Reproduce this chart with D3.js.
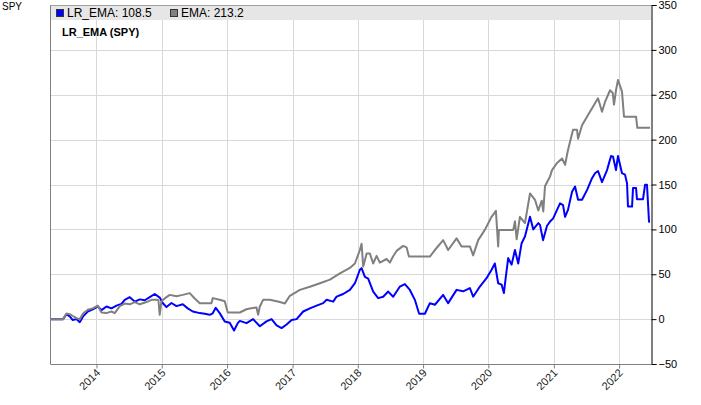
<!DOCTYPE html>
<html><head><meta charset="utf-8">
<script src="https://cdn.jsdelivr.net/npm/d3@7"></script>
<style>
body{margin:0;background:#fff}
text{font-family:Arial,"Liberation Sans",sans-serif}
</style>
</head><body>
<svg id="c" width="701" height="405"></svg>
<script>
// ---- data (decimal years, values) ----
const lrYears = [2013.296,2013.489,2013.541,2013.591,2013.637,2013.694,2013.744,2013.795,2013.867,2013.943,
2014.020,2014.077,2014.153,2014.230,2014.306,2014.383,2014.433,2014.510,2014.587,2014.663,2014.740,2014.816,2014.893,2014.969,
2015.015,2015.072,2015.149,2015.225,2015.322,2015.398,2015.475,2015.582,2015.658,2015.735,2015.781,2015.827,2015.888,2015.965,
2016.041,2016.107,2016.164,2016.195,2016.297,2016.398,2016.501,2016.603,2016.680,2016.757,2016.833,2016.910,2016.986,
2017.063,2017.164,2017.266,2017.369,2017.470,2017.522,2017.623,2017.675,2017.776,2017.879,2017.956,
2018.032,2018.058,2018.109,2018.159,2018.236,2018.312,2018.389,2018.466,2018.542,2018.645,2018.721,2018.798,2018.874,2018.940,
2019.028,2019.104,2019.181,2019.308,2019.384,2019.513,2019.614,2019.717,2019.767,2019.870,2019.972,
2020.049,2020.099,2020.150,2020.202,2020.237,2020.268,2020.303,2020.355,2020.406,2020.456,2020.508,2020.559,2020.636,2020.686,2020.763,2020.789,2020.835,2020.896,2020.942,2020.988,
2021.049,2021.095,2021.141,2021.172,2021.217,2021.279,2021.325,2021.371,2021.432,2021.508,2021.585,2021.631,2021.677,2021.738,2021.815,2021.876,2021.907,2021.952,2021.983,
2022.044,2022.090,2022.121,2022.136,2022.198,2022.213,2022.259,2022.274,2022.366,2022.397,2022.427,2022.458,2022.473];
const lrValues = [0,0,5.6,3,-1,0,-3.4,3,8.5,11,
14,10,14,12,15,17,21.5,24.5,19.5,22,21,24.5,28,24,
18,13.4,18,14.5,16.5,12,8.5,6.7,6,4.8,6.5,12.6,6.7,-2.6,
-4,-12.7,-4.5,-2,-4.5,0,-8,-2.5,0,-7,-10,-6,-1,
0,8.5,12,15,17.8,21.5,19.5,25,28,32.6,40,
55,56.8,47,45,30.7,23.4,25,30.7,25,36.3,39,32.5,21.5,6,
6,17.8,16,27,17.8,32.6,31,34.5,25,36.3,45.6,
55,62,40,38.5,29,48,68,60.7,77,62,84.6,92,114,100,107,105,88,104,108.7,112,
121.7,129,127,114,121.7,142,147.7,133,133,143.7,157,162.6,165,152.6,166,181.8,181,166,181.8,
162.6,161,151.4,125.4,125.4,146,146,133.6,133.6,149.6,149.6,108.5,108.5];

const emaYears = [2013.296,2013.489,2013.541,2013.591,2013.637,2013.694,2013.744,2013.795,2013.867,2013.943,
2014.020,2014.077,2014.153,2014.230,2014.280,2014.357,2014.433,2014.510,2014.587,2014.663,2014.766,2014.842,2014.919,2014.949,2014.969,2014.995,
2015.072,2015.123,2015.225,2015.322,2015.429,2015.505,2015.582,2015.761,2015.781,2015.888,2015.965,
2016.011,2016.195,2016.297,2016.348,2016.450,2016.475,2016.501,2016.551,2016.654,2016.757,2016.807,2016.884,2016.960,
2017.113,2017.266,2017.420,2017.573,2017.726,2017.879,2017.956,
2018.032,2018.058,2018.083,2018.135,2018.185,2018.236,2018.288,2018.338,2018.441,2018.492,2018.542,2018.594,2018.695,2018.747,2018.783,
2019.104,2019.181,2019.308,2019.384,2019.513,2019.590,2019.717,2019.767,2019.844,2019.946,
2020.049,2020.115,2020.150,2020.161,2020.380,2020.406,2020.432,2020.482,2020.559,2020.636,2020.712,2020.763,2020.815,2020.839,2020.865,2020.942,2020.972,
2021.049,2021.126,2021.172,2021.217,2021.294,2021.355,2021.371,2021.432,2021.524,2021.631,2021.677,2021.738,2021.784,2021.861,2021.902,2021.922,2021.952,2021.983,
2022.044,2022.075,2022.259,2022.279,2022.473];
const emaValues = [0,0,6.3,5.5,3.5,1,0,6.3,10.4,12,
15,7.5,6.7,8.5,6.7,14.5,17.3,16.5,19,16.5,19,21.5,21.5,21,4.8,20,
24.5,27,25.5,27,29,23,17.8,17.8,23.4,21.5,20,
7.4,7.4,11,11.8,13,4.8,14,21.5,21.5,20,19,17.5,26,
32.6,36,40,44,51,57,62,
77,84,58.6,73,73,62,70.5,63,67,63,70,76,81.6,80,69.7,
69.7,77,88,77,90,81,81,71,88,99.4,
114,120.6,81,99.4,99.4,109,89,114,107,140,133,121,132,120,148,159,166,
174,179,172,188.5,211,211,201,216,227.5,240.5,246,231,242,255,252,239,255,266.5,
253.5,225.6,225.6,213.2,213.2];

const yTicks = [-50,0,50,100,150,200,250,300,350];
const xTickYears = [2014,2015,2016,2017,2018,2019,2020,2021,2022];
const seriesNames = ["LR_EMA","EMA"];
const seriesColors = ["#0000ff","#808080"];
const legendLabels = ["LR_EMA: 108.5","EMA: 213.2"];
const chartTitle = "LR_EMA (SPY)";
const symbolLabel = "SPY";

// ---- helpers ----
function toDate(t){
  const y = Math.floor(t), f = t - y;
  const a = new Date(y,0,1).getTime(), b = new Date(y+1,0,1).getTime();
  return new Date(a + f*(b-a));
}

const svg = d3.select("#c");
const L = 50.5, R = 651, T = 5, B = 364;

const x = d3.scaleTime()
  .domain([toDate(lrYears[0]), toDate(lrYears[lrYears.length-1])])
  .range([L, 650]);
const y = d3.scaleLinear().domain([-50,350]).range([B, T]);

// gridlines
const g = svg.append("g");
g.selectAll(".hg").data(yTicks).join("line")
  .attr("x1",L).attr("x2",R)
  .attr("y1",d=>Math.round(y(d))+0.5).attr("y2",d=>Math.round(y(d))+0.5)
  .attr("stroke","#d9d9d9").attr("stroke-width",1);
g.selectAll(".vg").data(xTickYears).join("line")
  .attr("x1",d=>Math.round(x(new Date(d,0,1)))+0.5).attr("x2",d=>Math.round(x(new Date(d,0,1)))+0.5)
  .attr("y1",T).attr("y2",B)
  .attr("stroke","#d9d9d9").attr("stroke-width",1);

// legend band
svg.append("rect").attr("x",L).attr("y",T).attr("width",R-L).attr("height",15).attr("fill","#e6e6e6");

// lines
const line = d3.line().x(d=>x(d[0])).y(d=>y(d[1]));
const lrData = lrYears.map((t,i)=>[toDate(t), lrValues[i]]);
const emaData = emaYears.map((t,i)=>[toDate(t), emaValues[i]]);
svg.append("path").datum(lrData).attr("d",line).attr("fill","none")
  .attr("stroke",seriesColors[0]).attr("stroke-width",2).attr("stroke-linejoin","round");
svg.append("path").datum(emaData).attr("d",line).attr("fill","none")
  .attr("stroke",seriesColors[1]).attr("stroke-width",2).attr("stroke-linejoin","round");

// frame
svg.append("line").attr("x1",L).attr("x2",L).attr("y1",T).attr("y2",B).attr("stroke","#808080");
svg.append("line").attr("x1",L).attr("x2",R).attr("y1",B+0.5).attr("y2",B+0.5).attr("stroke","#808080");
svg.append("line").attr("x1",L).attr("x2",R).attr("y1",T+0.5).attr("y2",T+0.5).attr("stroke","#a0a0a0");

// right axis
const yAxis = d3.axisRight(y).tickValues(yTicks).tickSize(5).tickPadding(2).tickFormat(d3.format("d"));
const ya = svg.append("g").attr("transform",`translate(${R+0.5},0)`).call(yAxis);
ya.select(".domain").attr("stroke","#000");
ya.selectAll(".tick line").attr("stroke","#000");
ya.selectAll("text").attr("font-size",11).attr("fill","#000").attr("font-family","Arial, 'Liberation Sans', sans-serif");

// bottom axis
const xAxis = d3.axisBottom(x).tickValues(xTickYears.map(d=>new Date(d,0,1)))
  .tickSize(4).tickFormat(d3.timeFormat("%Y"));
const xa = svg.append("g").attr("transform",`translate(0,${B+0.5})`).call(xAxis);
xa.select(".domain").remove();
xa.selectAll(".tick line").attr("stroke","#808080");
xa.selectAll("text").attr("font-size",11).attr("fill","#222")
  .attr("font-family","Arial, 'Liberation Sans', sans-serif")
  .attr("text-anchor","end").attr("dy",null).attr("y",null)
  .attr("transform","translate(4,9) rotate(-45)");

// legend
const lg = svg.append("g");
const legendX = [56, 170];
legendLabels.forEach((lab,i)=>{
  lg.append("rect").attr("x",legendX[i]+0.5).attr("y",9.5).attr("width",7).attr("height",7)
    .attr("fill",seriesColors[i]).attr("stroke","#333").attr("stroke-width",1);
  lg.append("text").attr("x",legendX[i]+11).attr("y",17).attr("font-size",12).attr("fill","#000").text(lab);
});

// title & symbol
svg.append("text").attr("x",62).attr("y",36).attr("font-size",11).attr("font-weight","bold").attr("fill","#000").text(chartTitle);
svg.append("text").attr("x",2).attr("y",10).attr("font-size",10).attr("fill","#000").text(symbolLabel);
</script>
</body></html>
